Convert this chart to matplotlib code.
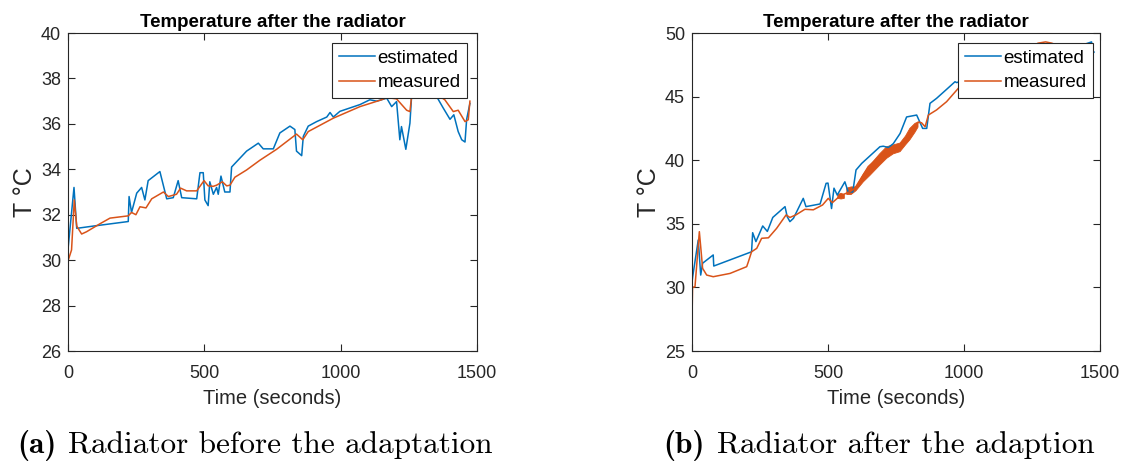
import numpy as np
import matplotlib
matplotlib.use("Agg")
import matplotlib.pyplot as plt

# ---------------- data ----------------
# (a) before adaptation
t_est_a = [0, 1, 22, 32, 93, 221, 224, 233, 252, 270, 282, 294, 337, 362, 386, 404, 417, 472,
           484, 496, 502, 514, 520, 533, 545, 551, 561, 575, 594, 600, 655, 698, 716, 753, 777,
           814, 832, 838, 857, 863, 881, 912, 949, 961, 973, 997, 1071, 1107, 1132, 1169, 1187,
           1205, 1217, 1223, 1239, 1254, 1260, 1290, 1330, 1352, 1376, 1401, 1415, 1431, 1444,
           1456, 1462, 1474]
T_est_a = [30.4, 30.6, 33.2, 31.4, 31.5, 31.7, 32.8, 32.1, 32.95, 33.2, 32.65, 33.5, 33.9, 32.7,
           32.75, 33.5, 32.75, 32.7, 33.85, 33.85, 32.65, 32.4, 33.45, 32.9, 33.2, 32.9, 33.7,
           33.0, 33.0, 34.1, 34.8, 35.15, 34.9, 34.9, 35.6, 35.9, 35.75, 34.8, 34.6, 35.45, 35.9,
           36.1, 36.3, 36.5, 36.3, 36.55, 36.85, 37.06, 37.0, 37.13, 36.76, 36.98, 35.3, 35.88,
           34.88, 36.03, 37.2, 37.6, 37.5, 37.2, 36.7, 36.2, 36.4, 35.66, 35.3, 35.2, 36.2, 36.9]

t_meas_a = [0, 1, 13, 23, 32, 50, 68, 117, 154, 221, 233, 249, 264, 286, 307, 350, 368, 398,
            413, 435, 472, 499, 514, 533, 545, 566, 582, 594, 612, 655, 704, 765, 838, 861, 881,
            973, 1071, 1150, 1169, 1205, 1242, 1254, 1260, 1290, 1340, 1382, 1413, 1431, 1456,
            1468, 1474]
T_meas_a = [27.5, 30.0, 30.45, 32.65, 31.5, 31.15, 31.25, 31.6, 31.85, 31.95, 32.1, 32.0, 32.35,
            32.3, 32.7, 33.0, 32.8, 32.9, 33.17, 33.05, 33.05, 33.5, 33.27, 33.25, 33.3, 33.45,
            33.27, 33.3, 33.65, 33.97, 34.4, 34.88, 35.55, 35.3, 35.66, 36.25, 36.76, 37.06,
            37.16, 37.1, 36.6, 36.54, 37.2, 37.5, 37.4, 37.06, 36.54, 36.6, 36.1, 36.18, 37.0]

# (b) after adaptation
t_est_b = [0, 2.5, 23, 32, 39, 78, 80, 219, 223, 235, 260, 277, 297, 342, 350, 360, 373, 409,
           419, 471, 493, 500, 513, 522, 534, 562, 574, 591, 603, 624, 691, 703, 722, 740, 765,
           789, 826, 848, 863, 875, 899, 936, 967, 973, 1100, 1250, 1400, 1469, 1474, 1478]
T_est_b = [30.4, 30.84, 33.73, 30.97, 31.9, 32.55, 31.68, 32.8, 34.3, 33.6, 34.83, 34.4, 35.5,
           36.35, 35.56, 35.17, 35.43, 37.0, 36.35, 36.56, 38.18, 38.2, 36.2, 37.8, 37.26, 38.3,
           37.52, 37.5, 39.23, 39.75, 41.06, 41.1, 41.0, 41.3, 42.1, 43.4, 43.55, 42.5, 42.5,
           44.47, 44.86, 45.57, 46.17, 46.1, 47.0, 48.0, 48.8, 49.3, 48.4, 48.5]

t_meas_b = [0, 2, 11, 27, 32, 39, 54, 78, 140, 201, 207, 219, 238, 256, 281, 311, 346, 360,
            382, 415, 446, 480, 501, 516, 544, 581, 599, 648, 716, 740, 765, 814, 832, 844, 857,
            869, 899, 936, 979, 1100, 1200, 1272, 1300, 1323, 1400, 1470, 1474]
T_meas_b = [27.4, 30.0, 30.06, 34.38, 33.2, 31.5, 30.97, 30.84, 31.1, 31.63, 32.0, 32.8, 33.07,
            33.86, 33.9, 34.64, 35.7, 35.5, 35.7, 36.14, 36.1, 36.48, 37.0, 36.66, 37.19, 37.53,
            37.8, 39.5, 40.8, 41.06, 41.2, 42.37, 43.0, 42.94, 42.63, 43.55, 43.95, 44.6, 45.65,
            47.0, 48.3, 49.2, 49.3, 49.2, 48.5, 48.2, 48.0]

# envelope of the fast oscillation of the measured signal in (b)
band_t_b = [536, 548, 560, 564, 569, 585, 603, 630, 654, 690, 716, 740, 765, 785, 801, 820, 831]
band_lo_b = [37.0, 36.95, 37.0, np.nan, 37.3, 37.3, 37.6, 38.3, 38.8, 39.6, 40.15, 40.5, 40.67,
             41.2, 41.6, 42.2, 42.6]
band_hi_b = [37.3, 37.4, 37.3, np.nan, 37.8, 37.9, 37.9, 38.9, 39.6, 40.5, 41.06, 41.2, 41.35,
             41.9, 42.5, 42.9, 43.0]

title = "Temperature after the radiator"
xlabel = "Time (seconds)"
ylabel = "T °C"
series_names = ["estimated", "measured"]
caption_tags = ["(a)", "(b)"]
caption_texts = ["Radiator before the adaptation", "Radiator after the adaption"]
ylims = [(26, 40), (25, 50)]
yticks = [list(range(26, 41, 2)), list(range(25, 51, 5))]
xticks = [0, 500, 1000, 1500]

# ---------------- style ----------------
BLUE = "#0072BD"
ORANGE = "#D95319"
AXC = "#262626"
SANS = ["Liberation Sans", "DejaVu Sans"]

W, H = 1128, 461
fig = plt.figure(figsize=(W / 100, H / 100), dpi=100)


def px_axes(x0, y0, x1, y1):
    return [x0 / W, (H - y1) / H, (x1 - x0) / W, (y1 - y0) / H]


axes = [fig.add_axes(px_axes(68, 33, 477, 351)), fig.add_axes(px_axes(692, 33, 1100, 351))]
data = [(t_est_a, T_est_a, t_meas_a, T_meas_a), (t_est_b, T_est_b, t_meas_b, T_meas_b)]
legend_anchor = [(0.976, 0.969), (0.983, 0.969)]

for i, ax in enumerate(axes):
    te, Te, tm, Tm = data[i]
    ax.plot(te, Te, color=BLUE, lw=1.1, label=series_names[0])
    ax.plot(tm, Tm, color=ORANGE, lw=1.1, label=series_names[1])
    if i == 1:
        ax.fill_between(band_t_b, band_lo_b, band_hi_b, color=ORANGE, lw=0.6, edgecolor=ORANGE)
    ax.set_xlim(0, 1500)
    ax.set_ylim(*ylims[i])
    ax.set_xticks(xticks)
    ax.set_yticks(yticks[i])
    ax.tick_params(direction="in", top=True, right=True, length=5, width=0.8,
                   colors=AXC, labelsize=13, pad=5)
    ax.tick_params(axis="x", pad=10)
    for lab in ax.get_xticklabels() + ax.get_yticklabels():
        lab.set_family(SANS)
    for s in ax.spines.values():
        s.set_color(AXC)
        s.set_linewidth(0.8)
    ax.set_title(title, family=SANS, fontweight="bold", fontsize=13.5, pad=4, color="black")
    ax.set_xlabel(xlabel, family=SANS, fontsize=14.5, color=AXC, labelpad=5)
    ax.set_ylabel(ylabel, family=SANS, fontsize=18, color=AXC, labelpad=3)
    leg = ax.legend(loc="upper right", bbox_to_anchor=legend_anchor[i], borderaxespad=0,
                    fancybox=False, framealpha=1, edgecolor=AXC,
                    prop={"family": SANS, "size": 13.5}, handlelength=1.9,
                    handletextpad=0.15, borderpad=0.35, labelspacing=0.4)
    leg.get_frame().set_linewidth(0.8)
    leg.set_zorder(5)

# captions (baseline at ~453 px from top)
cap_pos = [(17, 68), (663, 717)]
for i in range(2):
    xa, xb = cap_pos[i]
    fig.text(xa / W, (H - 453) / H, caption_tags[i], family="cmb10", fontsize=22.5,
             color="black", va="baseline")
    fig.text(xb / W, (H - 453) / H, caption_texts[i], family="cmr10", fontsize=22.5,
             color="black", va="baseline")

fig.savefig("out.png", dpi=100)
